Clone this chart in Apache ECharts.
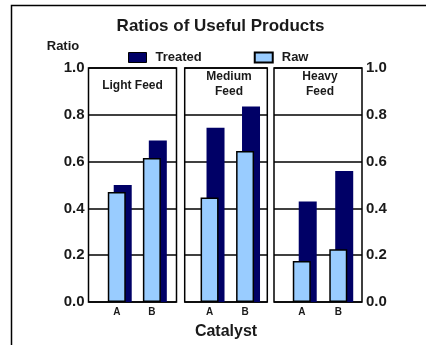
<!DOCTYPE html>
<html><head><meta charset="utf-8">
<script src="https://cdn.jsdelivr.net/npm/echarts@6/dist/echarts.min.js"></script>
<style>html,body{margin:0;padding:0;background:#fff}#c{width:426px;height:345px}</style>
</head><body><div id="c"></div>
<script>
const categories = ['A', 'B'];
const feeds = ['Light Feed', 'Medium\nFeed', 'Heavy\nFeed'];
const treatedLight = [0.50, 0.69];
const treatedMedium = [0.745, 0.835];
const treatedHeavy = [0.43, 0.56];
const rawLight = [0.47, 0.615];
const rawMedium = [0.447, 0.645];
const rawHeavy = [0.175, 0.225];
const yMin = 0, yMax = 1, yStep = 0.2;

const FONT = "'Liberation Sans', Arial, Helvetica, sans-serif";
const treated = [treatedLight, treatedMedium, treatedHeavy];
const raw = [rawLight, rawMedium, rawHeavy];

const frameGrids = [
  {left: 88.5, top: 68, width: 88, height: 234},
  {left: 184.7, top: 68, width: 82.6, height: 234},
  {left: 274, top: 68, width: 88, height: 234}
];
const barGrids = [
  {left: 102.2, top: 68, width: 70.2, height: 234},
  {left: 194.8, top: 68, width: 71, height: 234},
  {left: 286.5, top: 68, width: 73, height: 234}
];
const feedLabelPos = [[132.5, 78], [229, 69.2], [320, 69.2]];

const grid = [];
const xAxis = [];
const yAxis = [];
const series = [];
frameGrids.forEach((g, i) => {
  grid.push(Object.assign({show: true, borderColor: '#000', borderWidth: 1.5, backgroundColor: '#fff', z: 0}, g));
  xAxis.push({gridIndex: i, type: 'value', min: 0, max: 1, show: false});
  yAxis.push({
    gridIndex: i, type: 'value', min: yMin, max: yMax, interval: yStep,
    position: i === 2 ? 'right' : 'left',
    axisLine: {show: false}, axisTick: {show: false},
    splitLine: {show: true, lineStyle: {color: '#000', width: 1.5}},
    axisLabel: {show: i !== 1, margin: 4, formatter: v => v.toFixed(1),
      fontFamily: FONT, fontWeight: 'bold', fontSize: 15, color: '#1a1a1a'}
  });
});
barGrids.forEach((g, i) => {
  grid.push(Object.assign({show: false}, g));
  xAxis.push({
    gridIndex: 3 + i, type: 'category', data: categories,
    axisLine: {show: false}, axisTick: {show: false},
    axisLabel: {margin: 5, padding: [0, 6, 0, 0], fontFamily: FONT, fontWeight: 'bold', fontSize: 10, color: '#1a1a1a'}
  });
  yAxis.push({gridIndex: 3 + i, type: 'value', min: yMin, max: yMax, show: false});
  series.push({
    type: 'bar', name: 'Raw', xAxisIndex: 3 + i, yAxisIndex: 3 + i, data: raw[i],
    barWidth: 18, barGap: '-67%', z: 3,
    itemStyle: {color: '#99ccff', borderColor: '#000', borderWidth: 1.5}
  });
  series.push({
    type: 'bar', name: 'Treated', xAxisIndex: 3 + i, yAxisIndex: 3 + i, data: treated[i],
    barWidth: 18, barGap: '-67%', z: 2,
    itemStyle: {color: '#000066'}
  });
});

const txt = (text, x, y, size, lh) => ({
  text, left: x, top: y, textAlign: 'center', padding: 0,
  textStyle: {fontFamily: FONT, fontWeight: 'bold', fontSize: size, lineHeight: lh, color: '#1a1a1a'}
});
const title = [
  txt('Ratios of Useful Products', 220.5, 16, 17, 20),
  txt('Ratio', 63, 38.5, 13, 16),
  txt('Catalyst', 226, 322.7, 16, 18)
];
feeds.forEach((f, i) => title.push(txt(f, feedLabelPos[i][0], feedLabelPos[i][1], 12, 15)));

const chart = echarts.init(document.getElementById('c'), null, {renderer: 'canvas'});
chart.setOption({
  animation: false,
  backgroundColor: '#fff',
  title,
  legend: {
    data: [{name: 'Treated', itemStyle: {borderColor: '#000', borderWidth: 1}}, {name: 'Raw'}],
    left: 128, top: 51, padding: 0, itemWidth: 18, itemHeight: 10, itemGap: 52, icon: 'rect',
    selectedMode: false,
    textStyle: {fontFamily: FONT, fontWeight: 'bold', fontSize: 13, color: '#1a1a1a', padding: [0, 0, 0, 4]}
  },
  graphic: [{
    type: 'rect', z: -10, silent: true,
    shape: {x: 11.5, y: 5.5, width: 600, height: 600},
    style: {fill: null, stroke: '#000', lineWidth: 1.5}
  }],
  grid, xAxis, yAxis, series
});
</script></body></html>
